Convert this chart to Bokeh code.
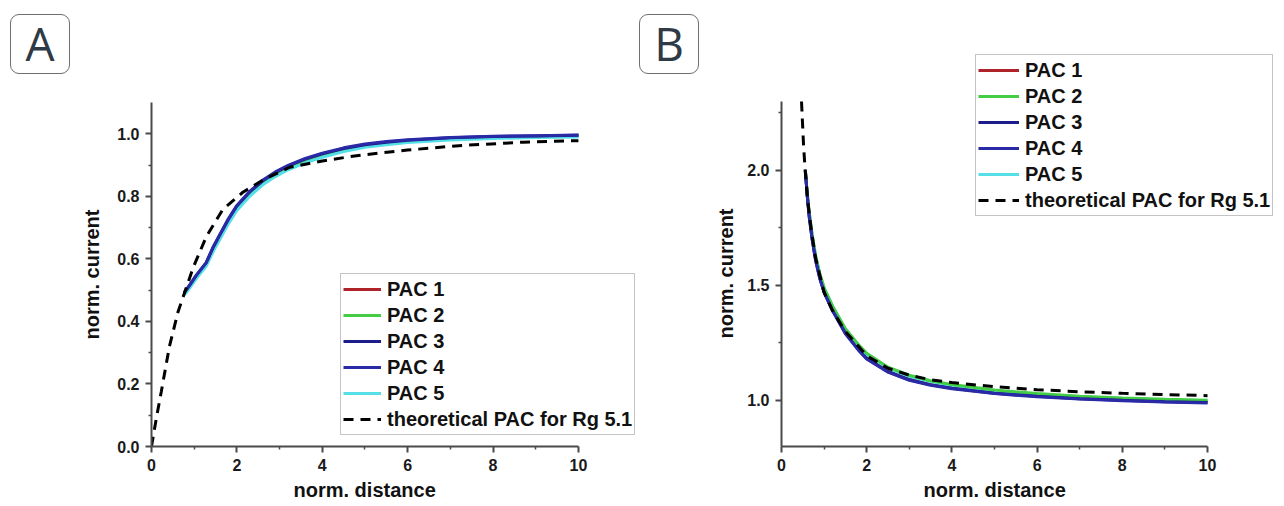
from bokeh.plotting import figure
from bokeh.layouts import row, column
from bokeh.models import Legend, LegendItem, FixedTicker, PrintfTickFormatter, Div, Title
from bokeh.embed import file_html
from bokeh.resources import INLINE

# ---------------- data ----------------
series_names = ["PAC 1", "PAC 2", "PAC 3", "PAC 4", "PAC 5"]
theory_name = "theoretical PAC for Rg 5.1"
series_colors = ["#b0232a", "#44cc44", "#1c1c8a", "#2a2aa6", "#55e0e8"]
panel_letters = ["A", "B"]

# Panel A
dist_a = [0.77, 0.9, 1.05, 1.28, 1.45, 1.6, 1.8, 2.0, 2.3, 2.6, 2.9, 3.2, 3.6, 4.0, 4.5, 5.0, 5.5, 6.0, 7.0, 8.0, 9.0, 10.0]
pac1_a = [0.490, 0.515, 0.545, 0.585, 0.635, 0.672, 0.722, 0.765, 0.810, 0.845, 0.872, 0.893, 0.915, 0.932, 0.950, 0.963, 0.971, 0.977, 0.985, 0.990, 0.992, 0.994]
pac2_a = [0.488, 0.513, 0.543, 0.583, 0.632, 0.670, 0.720, 0.763, 0.808, 0.843, 0.870, 0.891, 0.913, 0.930, 0.948, 0.961, 0.969, 0.976, 0.984, 0.989, 0.991, 0.993]
pac3_a = [0.492, 0.517, 0.547, 0.587, 0.638, 0.676, 0.726, 0.769, 0.814, 0.849, 0.876, 0.897, 0.919, 0.936, 0.953, 0.965, 0.973, 0.979, 0.987, 0.991, 0.993, 0.995]
pac4_a = [0.493, 0.518, 0.548, 0.588, 0.640, 0.678, 0.728, 0.771, 0.816, 0.851, 0.878, 0.899, 0.921, 0.938, 0.955, 0.967, 0.975, 0.981, 0.988, 0.992, 0.994, 0.996]
pac5_a = [0.484, 0.508, 0.537, 0.576, 0.625, 0.662, 0.712, 0.755, 0.800, 0.836, 0.863, 0.885, 0.907, 0.925, 0.943, 0.957, 0.965, 0.972, 0.980, 0.985, 0.988, 0.990]
theo_x_a = [0.0, 0.11, 0.23, 0.42, 0.62, 0.77, 0.97, 1.28, 1.67, 2.14, 2.61, 3.24, 4.0, 4.8, 6.0, 7.2, 8.7, 10.0]
theo_y_a = [0.0, 0.088, 0.176, 0.320, 0.430, 0.490, 0.570, 0.670, 0.758, 0.813, 0.852, 0.893, 0.913, 0.930, 0.948, 0.962, 0.973, 0.978]

# Panel B
dist_b = [0.56, 0.60, 0.65, 0.72, 0.80, 0.90, 1.0, 1.2, 1.5, 1.8, 2.0, 2.5, 3.0, 3.5, 4.0, 5.0, 6.0, 7.0, 8.0, 9.0, 10.0]
pac1_b = [2.00, 1.90, 1.81, 1.71, 1.62, 1.54, 1.48, 1.40, 1.300, 1.232, 1.192, 1.133, 1.098, 1.075, 1.060, 1.038, 1.023, 1.013, 1.006, 1.000, 0.996]
pac2_b = [2.00, 1.91, 1.82, 1.72, 1.63, 1.55, 1.49, 1.41, 1.312, 1.245, 1.205, 1.145, 1.110, 1.086, 1.070, 1.046, 1.030, 1.019, 1.011, 1.005, 1.001]
pac3_b = [2.00, 1.90, 1.80, 1.70, 1.61, 1.53, 1.47, 1.39, 1.292, 1.222, 1.182, 1.125, 1.090, 1.068, 1.053, 1.032, 1.018, 1.008, 1.001, 0.995, 0.991]
pac4_b = [2.00, 1.90, 1.80, 1.70, 1.61, 1.53, 1.47, 1.39, 1.290, 1.220, 1.180, 1.123, 1.088, 1.066, 1.051, 1.030, 1.016, 1.006, 0.999, 0.993, 0.989]
pac5_b = [2.00, 1.91, 1.82, 1.72, 1.63, 1.55, 1.49, 1.41, 1.308, 1.240, 1.200, 1.140, 1.104, 1.081, 1.065, 1.042, 1.027, 1.016, 1.009, 1.003, 0.999]
theo_x_b = [0.47, 0.49, 0.52, 0.56, 0.62, 0.70, 0.80, 1.0, 1.2, 1.5, 2.0, 2.5, 3.0, 3.5, 4.0, 5.0, 6.0, 7.0, 8.0, 9.0, 10.0]
theo_y_b = [2.30, 2.22, 2.10, 1.99, 1.86, 1.74, 1.62, 1.47, 1.39, 1.30, 1.195, 1.140, 1.110, 1.090, 1.078, 1.060, 1.047, 1.038, 1.031, 1.026, 1.021]

x_bounds = (0, 10)
x_ticks = [0, 2, 4, 6, 8, 10]
x_minor = [1, 3, 5, 7, 9]
y_bounds_a = (0.0, 1.1)
y_ticks_a = [0.0, 0.2, 0.4, 0.6, 0.8, 1.0]
y_minor_a = [0.1, 0.3, 0.5, 0.7, 0.9]
y_bounds_b = (0.8, 2.3)
y_ticks_b = [1.0, 1.5, 2.0]
y_minor_b = [1.25, 1.75, 2.25]

x_label = "norm. distance"
y_label = "norm. current"

FONT = "Liberation Sans"
AXIS_COLOR = "#4a4a4a"


def style_axes(p, yticks, yminor, ybounds):
    p.grid.visible = False
    p.outline_line_color = None
    p.background_fill_color = "white"
    p.border_fill_color = "white"
    p.xaxis.ticker = FixedTicker(ticks=x_ticks, minor_ticks=x_minor)
    p.yaxis.ticker = FixedTicker(ticks=yticks, minor_ticks=yminor)
    p.xaxis.bounds = x_bounds
    p.yaxis.bounds = ybounds
    p.xaxis.formatter = PrintfTickFormatter(format="%d")
    p.yaxis.formatter = PrintfTickFormatter(format="%.1f")
    for ax in (p.xaxis, p.yaxis):
        ax.axis_line_color = AXIS_COLOR
        ax.axis_line_width = 2
        ax.major_tick_line_color = AXIS_COLOR
        ax.major_tick_line_width = 2
        ax.minor_tick_line_color = AXIS_COLOR
        ax.minor_tick_line_width = 1.5
        ax.major_tick_out = 6
        ax.major_tick_in = 0
        ax.minor_tick_out = 3
        ax.minor_tick_in = 0
        ax.major_label_text_font = FONT
        ax.major_label_text_font_style = "bold"
        ax.major_label_text_font_size = "16px"
        ax.major_label_text_color = "#1a1a1a"
        ax.major_label_standoff = 6
        ax.axis_label_text_font = FONT
        ax.axis_label_text_font_style = "bold"
        ax.axis_label_text_font_size = "20px"
        ax.axis_label_text_color = "#111111"


def label_title(text, offset, standoff):
    return Title(text=text, align="left", offset=offset, standoff=standoff,
                 text_font=FONT, text_font_style="bold", text_font_size="20px",
                 text_color="#111111")


def add_series(p, xs, ys_list, tx, ty, legend_loc, font_size, glyph_w, order):
    renderers = {}
    for i in order:
        renderers[i] = p.line(xs, ys_list[i], line_color=series_colors[i], line_width=3)
    rt = p.line(tx, ty, line_color="black", line_width=3, line_dash="10 7")
    items = [LegendItem(label=series_names[i], renderers=[renderers[i]]) for i in range(5)]
    items.append(LegendItem(label=theory_name, renderers=[rt]))
    leg = Legend(items=items, location=legend_loc)
    leg.label_text_font = FONT
    leg.label_text_font_style = "bold"
    leg.label_text_font_size = font_size
    leg.label_text_color = "#111111"
    leg.glyph_width = glyph_w
    leg.glyph_height = 26
    leg.label_height = 26
    leg.label_standoff = 6
    leg.spacing = 0
    leg.padding = 2
    leg.margin = 0
    leg.border_line_color = "#8a8a8a"
    leg.border_line_width = 1
    leg.background_fill_color = "white"
    leg.background_fill_alpha = 1
    p.add_layout(leg, "center")


def letter_box(letter, margin):
    return Div(text=letter, width=60, height=60, margin=margin,
               styles={"border": "1.5px solid #6f6f6f", "border-radius": "9px",
                       "box-sizing": "border-box", "font-family": "Open Sans",
                       "font-size": "46px", "color": "#2e3a46", "text-align": "center",
                       "line-height": "57px", "background-color": "white"})


# ---------------- panel A ----------------
pA = figure(width=636, height=426, x_range=(0, 11.36), y_range=(0, 1.1),
            output_backend="svg", toolbar_location=None,
            min_border_left=151, min_border_right=0,
            min_border_top=22, min_border_bottom=60)
style_axes(pA, y_ticks_a, y_minor_a, y_bounds_a)
pA.yaxis.axis_label = y_label
pA.yaxis.axis_label_standoff = 11
pA.add_layout(label_title(x_label, 142, 7), "below")
add_series(pA, dist_a, [pac1_a, pac2_a, pac3_a, pac4_a, pac5_a], theo_x_a, theo_y_a,
           (189, 11), "20px", 38, [0, 1, 4, 2, 3])

# ---------------- panel B ----------------
pB = figure(width=580, height=506, x_range=(0, 11.76), y_range=(0.8, 2.5043),
            output_backend="svg", toolbar_location=None,
            min_border_left=79, min_border_right=0,
            min_border_top=54, min_border_bottom=60)
style_axes(pB, y_ticks_b, y_minor_b, y_bounds_b)
pB.add_layout(label_title(x_label, 142, 7), "below")
pB.add_layout(label_title(y_label, 108, 15), "left")
add_series(pB, dist_b, [pac1_b, pac2_b, pac3_b, pac4_b, pac5_b], theo_x_b, theo_y_b,
           (194, 230), "20px", 41, [0, 4, 1, 2, 3])

boxA = letter_box(panel_letters[0], (14, 0, 6, 10))
boxB = letter_box(panel_letters[1], (14, 3, 0, 3))

layout = row(column(boxA, pA), column(boxB), pB)
open("out.html", "w").write(file_html(layout, INLINE))
